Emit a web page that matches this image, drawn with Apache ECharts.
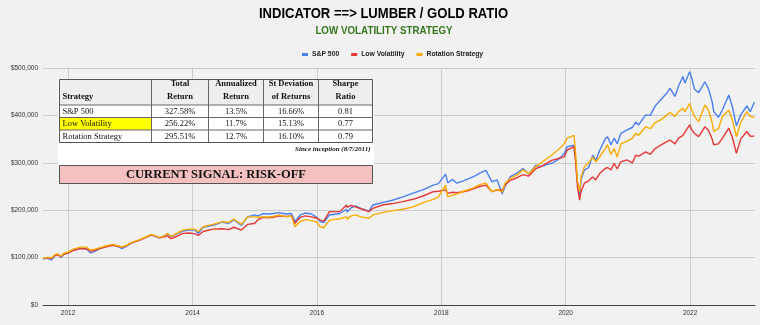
<!DOCTYPE html>
<html>
<head>
<meta charset="utf-8">
<script src="https://cdn.jsdelivr.net/npm/echarts@6/dist/echarts.min.js"></script>
<style>
  html, body { margin: 0; padding: 0; background: #f1f1f1; }
  #chart { width: 760px; height: 325px; }
</style>
</head>
<body>
<div id="chart"></div>
<script>
// Growth of a $100,000 investment since inception (8/7/2011)
const dates = [
  '2011-08-08','2011-09-05','2011-09-26','2011-10-15','2011-11-01','2011-11-21','2011-12-07',
  '2012-01-03','2012-02-01','2012-03-12','2012-04-20','2012-05-10','2012-06-01','2012-07-05',
  '2012-08-15','2012-09-20','2012-10-20','2012-11-12','2012-12-10',
  '2013-01-08','2013-02-25','2013-04-05','2013-05-05','2013-06-20','2013-07-20','2013-08-05',
  '2013-08-28','2013-10-01','2013-11-05','2013-12-15',
  '2014-01-15','2014-02-03','2014-03-05','2014-05-01','2014-06-25','2014-07-31','2014-09-01',
  '2014-10-15','2014-11-20','2014-12-31',
  '2015-01-20','2015-02-20','2015-03-15','2015-04-20','2015-05-25','2015-07-05','2015-08-05',
  '2015-08-25','2015-09-25','2015-10-25','2015-12-01',
  '2016-01-01','2016-01-20','2016-02-11','2016-03-15','2016-05-15','2016-06-23','2016-06-27',
  '2016-07-20','2016-08-15','2016-09-15','2016-11-03','2016-11-25',
  '2017-01-20','2017-03-20','2017-05-20','2017-07-20','2017-09-15','2017-11-15','2017-12-15',
  '2018-01-26','2018-02-08','2018-03-09','2018-04-02','2018-05-10','2018-06-15','2018-07-15',
  '2018-08-15','2018-09-20','2018-10-25','2018-11-25','2018-12-24',
  '2019-01-10','2019-02-10','2019-03-20','2019-04-25','2019-05-30','2019-07-10','2019-08-10',
  '2019-09-10','2019-10-10','2019-11-20','2019-12-25',
  '2020-01-10','2020-02-19','2020-02-28','2020-03-10','2020-03-23','2020-04-01','2020-04-20',
  '2020-05-15','2020-06-08','2020-06-26','2020-07-20','2020-08-20','2020-09-03','2020-09-23',
  '2020-10-12','2020-10-30','2020-11-20','2020-12-25',
  '2021-01-28','2021-02-15','2021-03-05','2021-04-15','2021-05-12','2021-06-10','2021-07-10',
  '2021-08-15','2021-09-05','2021-10-04','2021-10-25','2021-11-20','2021-12-01','2021-12-29',
  '2022-01-10','2022-01-27','2022-02-20','2022-03-29','2022-04-20','2022-05-10','2022-05-20',
  '2022-06-16','2022-07-10','2022-08-16','2022-09-05','2022-09-30','2022-10-25','2022-11-30',
  '2022-12-20','2023-01-13'
];

const sp500 = [
  97000,99000,95000,104000,107000,100000,107000,
  110000,116000,120000,118000,110000,112000,119000,
  124000,127000,123000,119000,124000,
  131000,137000,143000,148000,141000,146000,150000,
  144000,150000,156000,158000,
  158000,151000,164000,168000,175000,172000,180000,
  168000,186000,190000,
  188000,193000,192000,193000,195000,192000,193000,
  176000,190000,194000,192000,
  185000,176000,174000,190000,193000,202000,196000,
  205000,209000,204000,198000,211000,
  216000,221000,228000,236000,243000,253000,256000,
  276000,258000,265000,257000,262000,267000,272000,
  278000,284000,260000,264000,234000,
  250000,271000,278000,288000,276000,295000,292000,
  296000,299000,307000,320000,
  334000,337000,310000,260000,228000,265000,285000,
  290000,316000,305000,327000,350000,355000,338000,
  352000,340000,362000,369000,
  375000,386000,380000,401000,400000,420000,432000,
  446000,457000,440000,462000,482000,468000,492000,
  480000,455000,448000,471000,455000,429000,408000,
  396000,412000,443000,420000,378000,401000,420000,
  408000,427580
];

const lowVolatility = [
  98000,100000,98000,104000,106000,102000,107000,
  110000,115000,119000,118000,114000,115000,119000,
  123000,126000,124000,122000,125000,
  131000,137000,143000,148000,142000,144000,146000,
  140000,145000,151000,152000,
  150000,147000,155000,160000,161000,159000,164000,
  158000,170000,172000,
  180000,185000,184000,185000,188000,187000,188000,
  172000,185000,188000,186000,
  183000,179000,177000,197000,197000,211000,206000,
  210000,207000,203000,197000,204000,
  211000,214000,218000,223000,230000,239000,240000,
  243000,236000,238000,237000,239000,242000,246000,
  250000,253000,239000,243000,242000,
  253000,263000,268000,275000,272000,288000,292000,
  299000,305000,309000,313000,
  327000,334000,305000,250000,221000,240000,257000,
  262000,270000,264000,278000,288000,290000,285000,
  299000,287000,302000,306000,
  300000,316000,314000,323000,318000,330000,337000,
  344000,348000,340000,352000,358000,355000,380000,
  370000,362000,355000,376000,368000,350000,338000,
  340000,352000,373000,355000,320000,350000,366000,
  356000,356220
];

const rotationStrategy = [
  98000,101000,99000,106000,108000,103000,109000,
  112000,118000,122000,122000,116000,117000,121000,
  125000,128000,125000,122000,126000,
  132000,138000,144000,149000,142000,146000,151000,
  145000,151000,158000,160000,
  160000,155000,165000,170000,176000,174000,181000,
  170000,186000,186000,
  185000,186000,185000,187000,190000,186000,188000,
  165000,176000,180000,178000,
  175000,165000,163000,179000,182000,186000,181000,
  188000,190000,186000,183000,190000,
  195000,199000,202000,207000,216000,223000,228000,
  253000,228000,232000,234000,240000,244000,248000,
  254000,257000,239000,244000,238000,
  257000,267000,274000,285000,277000,292000,300000,
  308000,316000,328000,341000,
  352000,358000,325000,262000,239000,270000,292000,
  300000,312000,302000,313000,330000,338000,318000,
  330000,312000,340000,345000,
  352000,362000,358000,376000,372000,385000,390000,
  400000,406000,398000,408000,415000,408000,425000,
  412000,398000,387000,422000,410000,385000,366000,
  372000,398000,411000,392000,355000,385000,408000,
  398000,395510
];

const seriesNames = ['S&P 500', 'Low Volatility', 'Rotation Strategy'];
const seriesColors = ['#4a7ff0', '#e53935', '#f9ab00'];
const yearTicks = ['2012-01-01','2014-01-01','2016-01-01','2018-01-01','2020-01-01','2022-01-01'];
const axisStart = '2011-08-07';
const axisEnd = '2023-01-17';

const chartTitle = 'INDICATOR ==> LUMBER / GOLD RATIO';
const chartSubtitle = 'LOW VOLATILITY STRATEGY';

// Performance summary table
const tableHeader = ['Strategy', 'Total\nReturn', 'Annualized\nReturn', 'St Deviation\nof Returns', 'Sharpe\nRatio'];
const tableRows = [
  ['S&P 500', '327.58%', '13.5%', '16.66%', '0.81'],
  ['Low Volatility', '256.22%', '11.7%', '15.13%', '0.77'],
  ['Rotation Strategy', '295.51%', '12.7%', '16.10%', '0.79']
];
const highlightedRow = 1;
const inceptionNote = 'Since inception (8/7/2011)';
const signalText = 'CURRENT SIGNAL: RISK-OFF';

const sans = "'Liberation Sans', Arial, sans-serif";
const serif = "'Liberation Serif', 'DejaVu Serif', serif";

const toTime = s => Date.UTC(+s.slice(0, 4), +s.slice(5, 7) - 1, +s.slice(8, 10));

// Table geometry (pixels)
const colX = [59.5, 151.5, 208.5, 263.5, 318.5, 372.5];
const rowY = [79.5, 105, 117.5, 130, 142.5];

function buildHeading() {
  return [
    {
      type: 'text', x: 383.5, y: 14, scaleX: 0.87,
      style: { text: chartTitle, fill: '#000', font: 'bold 15px ' + sans, align: 'center', verticalAlign: 'middle' }
    },
    {
      type: 'text', x: 384, y: 30.5, scaleX: 0.89,
      style: { text: chartSubtitle, fill: '#38761d', font: 'bold 11px ' + sans, align: 'center', verticalAlign: 'middle' }
    }
  ];
}

function buildTable() {
  const els = [];
  els.push({ type: 'rect', shape: { x: 58, y: 79, width: 316, height: 86 }, style: { fill: '#ffffff' } });
  els.push({ type: 'rect', shape: { x: colX[0], y: rowY[0], width: colX[5] - colX[0], height: rowY[1] - rowY[0] }, style: { fill: '#eeeeee' } });
  els.push({ type: 'rect', shape: { x: colX[0], y: rowY[highlightedRow + 1], width: colX[1] - colX[0], height: rowY[highlightedRow + 2] - rowY[highlightedRow + 1] }, style: { fill: '#ffff00' } });
  for (let i = 1; i < rowY.length - 1; i++) {
    els.push({ type: 'line', shape: { x1: colX[0], y1: rowY[i], x2: colX[5], y2: rowY[i] }, style: { stroke: '#666', lineWidth: 1 } });
  }
  for (let j = 1; j < colX.length - 1; j++) {
    els.push({ type: 'line', shape: { x1: colX[j], y1: rowY[0], x2: colX[j], y2: rowY[rowY.length - 1] }, style: { stroke: '#666', lineWidth: 1 } });
  }
  els.push({ type: 'rect', shape: { x: colX[0], y: rowY[0], width: colX[5] - colX[0], height: rowY[rowY.length - 1] - rowY[0] }, style: { fill: null, stroke: '#555', lineWidth: 1 } });
  tableHeader.forEach((h, j) => {
    const left = j === 0;
    els.push({
      type: 'text',
      x: left ? colX[0] + 3 : (colX[j] + colX[j + 1]) / 2,
      y: rowY[1] - 2,
      style: {
        text: h, fill: '#111', font: 'bold 8.5px ' + serif,
        align: left ? 'left' : 'center', verticalAlign: 'bottom', lineHeight: 13
      }
    });
  });
  tableRows.forEach((row, i) => {
    row.forEach((cell, j) => {
      const left = j === 0;
      els.push({
        type: 'text',
        x: left ? colX[0] + 3 : (colX[j] + colX[j + 1]) / 2,
        y: (rowY[i + 1] + rowY[i + 2]) / 2 + 0.5,
        style: {
          text: cell, fill: '#111', font: '8.5px ' + serif,
          align: left ? 'left' : 'center', verticalAlign: 'middle'
        }
      });
    });
  });
  els.push({
    type: 'text', x: 370.5, y: 149.5,
    style: { text: inceptionNote, fill: '#111', font: 'italic bold 7px ' + serif, align: 'right', verticalAlign: 'middle' }
  });
  els.push({ type: 'rect', shape: { x: 59.5, y: 165.5, width: 313, height: 18 }, style: { fill: '#f4c0c0', stroke: '#555', lineWidth: 1 } });
  els.push({
    type: 'text', x: 216, y: 175,
    style: { text: signalText, fill: '#111', font: 'bold 12.5px ' + serif, align: 'center', verticalAlign: 'middle' }
  });
  // keep the table panel above the plot's grid lines
  els.forEach(el => { el.z = 100; });
  return els;
}

function pairs(values) {
  return dates.map((d, i) => [toTime(d), values[i]]);
}

const chart = echarts.init(document.getElementById('chart'), null, { renderer: 'canvas' });
chart.setOption({
  backgroundColor: '#f1f1f1',
  animation: false,
  legend: {
    top: 46, left: 297, icon: 'rect', itemWidth: 6, itemHeight: 3, itemGap: 12,
    data: seriesNames,
    textStyle: { fontFamily: sans, fontSize: 6.8, fontWeight: 'bold', color: '#222', padding: [0, 0, 0, -1] }
  },
  grid: { left: 43, right: 5, top: 68, bottom: 20, containLabel: false },
  xAxis: {
    type: 'value',
    min: toTime(axisStart),
    max: toTime(axisEnd),
    axisLine: { show: true, onZero: false, lineStyle: { color: '#444', width: 1 } },
    axisTick: { show: false, customValues: yearTicks.map(toTime) },
    axisLabel: {
      customValues: yearTicks.map(toTime),
      formatter: v => String(new Date(v).getUTCFullYear()),
      fontFamily: sans, fontSize: 6.5, color: '#333', margin: 5
    },
    splitLine: { show: true, lineStyle: { color: '#cccccc', width: 1 } }
  },
  yAxis: {
    type: 'value', min: 0, max: 500000, interval: 100000,
    axisLine: { show: false }, axisTick: { show: false },
    axisLabel: {
      formatter: v => '$' + v.toLocaleString('en-US'),
      fontFamily: sans, fontSize: 6.5, color: '#333', margin: 5
    },
    splitLine: { lineStyle: { color: '#cccccc', width: 1 } }
  },
  series: [sp500, lowVolatility, rotationStrategy].map((vals, k) => ({
    name: seriesNames[k], type: 'line', data: pairs(vals),
    showSymbol: false, symbol: 'none', smooth: false,
    lineStyle: { width: 1.4, color: seriesColors[k] },
    itemStyle: { color: seriesColors[k] }
  })),
  graphic: buildHeading().concat(buildTable())
});
</script>
</body>
</html>
